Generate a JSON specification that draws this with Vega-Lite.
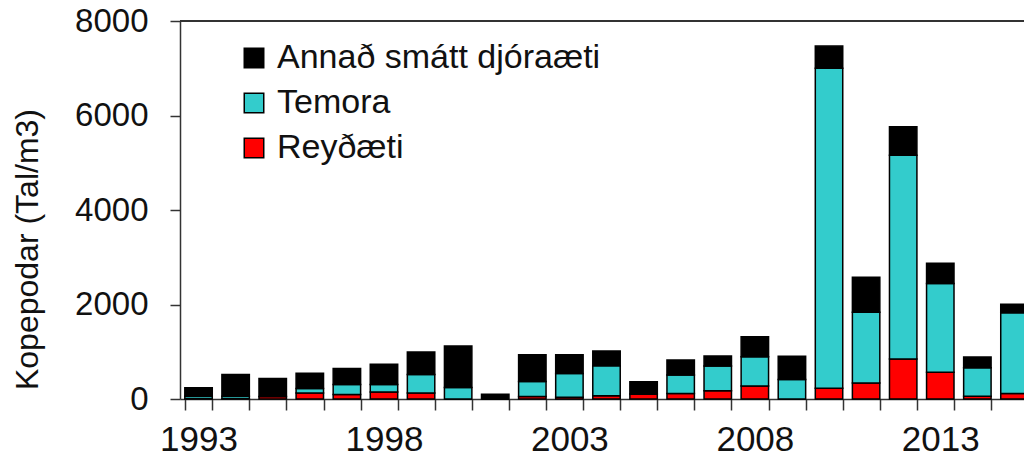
{
  "$schema": "https://vega.github.io/schema/vega-lite/v6.json",
  "autosize": {"type": "none"},
  "padding": {"left": 180, "top": 21, "right": 0, "bottom": 63},
  "width": 844,
  "height": 378,
  "background": "white",
  "config": {
    "view": {"stroke": null},
    "font": "Liberation Sans",
    "axis": {"domainColor": "#333333", "tickColor": "#333333", "domainWidth": 1.5, "tickWidth": 1.5, "labelColor": "#111111", "titleColor": "#111111", "grid": false}
  },
  "data": {
    "values": [
      {"year": 1993, "group": "Reyðæti", "value": 10}, {"year": 1993, "group": "Temora", "value": 50}, {"year": 1993, "group": "Annað smátt djóraæti", "value": 180},
      {"year": 1994, "group": "Reyðæti", "value": 10}, {"year": 1994, "group": "Temora", "value": 50}, {"year": 1994, "group": "Annað smátt djóraæti", "value": 456},
      {"year": 1995, "group": "Reyðæti", "value": 55}, {"year": 1995, "group": "Temora", "value": 0}, {"year": 1995, "group": "Annað smátt djóraæti", "value": 377},
      {"year": 1996, "group": "Reyðæti", "value": 127}, {"year": 1996, "group": "Temora", "value": 93}, {"year": 1996, "group": "Annað smátt djóraæti", "value": 324},
      {"year": 1997, "group": "Reyðæti", "value": 93}, {"year": 1997, "group": "Temora", "value": 212}, {"year": 1997, "group": "Annað smátt djóraæti", "value": 338},
      {"year": 1998, "group": "Reyðæti", "value": 148}, {"year": 1998, "group": "Temora", "value": 157}, {"year": 1998, "group": "Annað smátt djóraæti", "value": 429},
      {"year": 1999, "group": "Reyðæti", "value": 127}, {"year": 1999, "group": "Temora", "value": 389}, {"year": 1999, "group": "Annað smátt djóraæti", "value": 479},
      {"year": 2000, "group": "Reyðæti", "value": 0}, {"year": 2000, "group": "Temora", "value": 241}, {"year": 2000, "group": "Annað smátt djóraæti", "value": 880},
      {"year": 2001, "group": "Reyðæti", "value": 0}, {"year": 2001, "group": "Temora", "value": 0}, {"year": 2001, "group": "Annað smátt djóraæti", "value": 100},
      {"year": 2002, "group": "Reyðæti", "value": 55}, {"year": 2002, "group": "Temora", "value": 318}, {"year": 2002, "group": "Annað smátt djóraæti", "value": 565},
      {"year": 2003, "group": "Reyðæti", "value": 35}, {"year": 2003, "group": "Temora", "value": 507}, {"year": 2003, "group": "Annað smátt djóraæti", "value": 396},
      {"year": 2004, "group": "Reyðæti", "value": 70}, {"year": 2004, "group": "Temora", "value": 635}, {"year": 2004, "group": "Annað smátt djóraæti", "value": 311},
      {"year": 2005, "group": "Reyðæti", "value": 106}, {"year": 2005, "group": "Temora", "value": 0}, {"year": 2005, "group": "Annað smátt djóraæti", "value": 260},
      {"year": 2006, "group": "Reyðæti", "value": 118}, {"year": 2006, "group": "Temora", "value": 390}, {"year": 2006, "group": "Annað smátt djóraæti", "value": 317},
      {"year": 2007, "group": "Reyðæti", "value": 176}, {"year": 2007, "group": "Temora", "value": 522}, {"year": 2007, "group": "Annað smátt djóraæti", "value": 212},
      {"year": 2008, "group": "Reyðæti", "value": 275}, {"year": 2008, "group": "Temora", "value": 620}, {"year": 2008, "group": "Annað smátt djóraæti", "value": 423},
      {"year": 2009, "group": "Reyðæti", "value": 0}, {"year": 2009, "group": "Temora", "value": 415}, {"year": 2009, "group": "Annað smátt djóraæti", "value": 492},
      {"year": 2010, "group": "Reyðæti", "value": 226}, {"year": 2010, "group": "Temora", "value": 6772}, {"year": 2010, "group": "Annað smátt djóraæti", "value": 471},
      {"year": 2011, "group": "Reyðæti", "value": 339}, {"year": 2011, "group": "Temora", "value": 1495}, {"year": 2011, "group": "Annað smátt djóraæti", "value": 741},
      {"year": 2012, "group": "Reyðæti", "value": 846}, {"year": 2012, "group": "Temora", "value": 4311}, {"year": 2012, "group": "Annað smátt djóraæti", "value": 607},
      {"year": 2013, "group": "Reyðæti", "value": 565}, {"year": 2013, "group": "Temora", "value": 1877}, {"year": 2013, "group": "Annað smátt djóraæti", "value": 429},
      {"year": 2014, "group": "Reyðæti", "value": 57}, {"year": 2014, "group": "Temora", "value": 607}, {"year": 2014, "group": "Annað smátt djóraæti", "value": 225},
      {"year": 2015, "group": "Reyðæti", "value": 114}, {"year": 2015, "group": "Temora", "value": 1714}, {"year": 2015, "group": "Annað smátt djóraæti", "value": 176}
    ]
  },
  "layer": [
    {
      "transform": [
        {"calculate": "indexof(['Reyðæti', 'Temora', 'Annað smátt djóraæti'], datum.group)", "as": "stackOrder"}
      ],
      "mark": {"type": "bar", "stroke": "#000000", "strokeWidth": 1.5},
      "encoding": {
        "x": {
          "field": "year", "type": "ordinal",
          "scale": {"range": [0, 853], "paddingInner": 0.26, "paddingOuter": 0.13},
          "axis": {
            "title": null, "labelAngle": 0, "tickBand": "extent", "tickSize": 11,
            "labelFontSize": 35, "labelPadding": 12,
            "labelExpr": "(datum.value - 1993) % 5 == 0 ? datum.label : ''"
          }
        },
        "y": {
          "field": "value", "type": "quantitative", "stack": "zero",
          "scale": {"domain": [0, 8000], "nice": false},
          "axis": {
            "values": [0, 2000, 4000, 6000, 8000], "format": "d", "tickSize": 10,
            "labelFontSize": 33, "labelPadding": 22,
            "title": "Kopepodar (Tal/m3)", "titleFontSize": 32, "titleFontWeight": "normal",
            "titleAngle": -90, "titleX": -153, "titleY": 228, "titleBaseline": "middle", "titleAlign": "center"
          }
        },
        "order": {"field": "stackOrder", "type": "quantitative", "sort": "ascending"},
        "color": {
          "field": "group", "type": "nominal",
          "scale": {"domain": ["Annað smátt djóraæti", "Temora", "Reyðæti"], "range": ["#000000", "#33CCCC", "#FF0000"]},
          "legend": {
            "title": null, "orient": "none", "legendX": 57, "legendY": 20,
            "padding": 0, "symbolType": "square", "symbolSize": 380,
            "symbolStrokeColor": "#000000", "symbolStrokeWidth": 1.5,
            "labelFontSize": 34, "labelOffset": 6, "rowPadding": 11, "labelColor": "#111111",
            "labelLimit": 600
          }
        }
      }
    },
    {
      "mark": {"type": "rule", "color": "#333333", "strokeWidth": 1.5},
      "encoding": {"y": {"datum": 8000}}
    }
  ]
}
